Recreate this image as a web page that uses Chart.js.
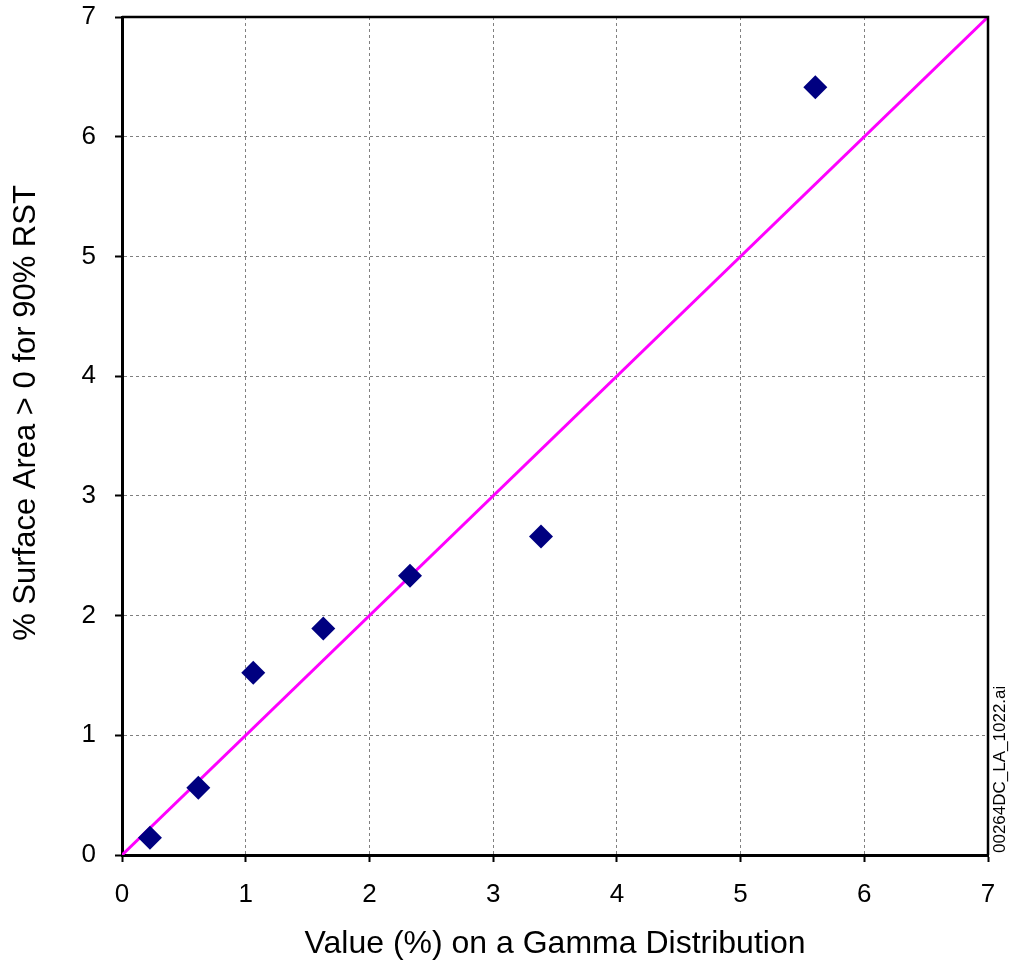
<!DOCTYPE html>
<html>
<head>
<meta charset="utf-8">
<script src="https://cdn.jsdelivr.net/npm/chart.js@4"></script>
<style>
    body { margin: 0; background: #fff; }
    canvas { display: block; }
</style>
</head>
<body>
<canvas id="gammaChart" width="1011" height="971"></canvas>
<script>
// gia tri doc tu hinh
var gammaValues = [0.226, 0.617, 1.061, 1.627, 2.328, 3.387, 5.604];
var surfaceArea = [0.144, 0.561, 1.522, 1.891, 2.333, 2.661, 6.413];
var lineX = [0, 7];
var lineY = [0, 7];
var axisMin = 0;
var axisMax = 7;
var xTitle = 'Value (%) on a Gamma Distribution';
var yTitle = '% Surface Area > 0 for 90% RST';
var fileTag = '00264DC_LA_1022.ai';

var _font = 'Arial, "Liberation Sans", sans-serif';

function toPoints(xs, ys) {
    return xs.map((x, i) => ({ x: x, y: ys[i] }));
}

// khung tren/phai, tieu de truc y va ten file
var framePlugin = {
    id: 'framePlugin',
    afterDraw: function (chart) {
        var ctx = chart.ctx;
        var a = chart.chartArea;
        ctx.save();
        ctx.strokeStyle = '#000';
        ctx.lineWidth = 2.5;
        ctx.beginPath();
        ctx.moveTo(a.left, a.top);
        ctx.lineTo(a.right, a.top);
        ctx.lineTo(a.right, a.bottom);
        ctx.stroke();

        ctx.fillStyle = '#000';
        ctx.font = '31px ' + _font;
        ctx.textAlign = 'center';
        ctx.textBaseline = 'middle';
        ctx.translate(26, 413);
        ctx.rotate(-Math.PI / 2);
        ctx.fillText(yTitle, 0, 0);
        ctx.restore();

        ctx.save();
        ctx.fillStyle = '#000';
        ctx.font = '17px ' + _font;
        ctx.textAlign = 'left';
        ctx.textBaseline = 'middle';
        ctx.translate(1000, 853);
        ctx.rotate(-Math.PI / 2);
        ctx.fillText(fileTag, 0, 0);
        ctx.restore();
    }
};

var ctx = document.getElementById('gammaChart').getContext('2d');
var _myChart = new Chart(ctx, {
    type: 'scatter',
    data: {
        datasets: [
            {
                label: 'Data',
                data: toPoints(gammaValues, surfaceArea),
                pointStyle: 'rectRot',
                pointRadius: 12,
                pointBorderWidth: 0,
                backgroundColor: '#000080',
                borderColor: '#000080',
                order: 1,
            },
            {
                label: '1:1',
                data: toPoints(lineX, lineY),
                showLine: true,
                pointRadius: 0,
                borderColor: '#ff00ff',
                borderWidth: 3,
                order: 2,
            },
        ],
    },
    options: {
        responsive: false,
        animation: false,
        layout: {
            padding: { top: 17, right: 23, left: 0, bottom: 0 },
        },
        plugins: {
            legend: { display: false },
            tooltip: { enabled: false },
        },
        scales: {
            x: {
                type: 'linear',
                min: axisMin,
                max: axisMax,
                afterFit: function (scale) {
                    scale.height = 116;
                    scale.paddingLeft = 0;
                    scale.paddingRight = 0;
                },
                ticks: {
                    stepSize: 1,
                    color: '#000',
                    padding: 17,
                    font: { family: _font, size: 26 },
                },
                grid: {
                    color: '#808080',
                    lineWidth: 1,
                    tickLength: 7,
                    tickColor: '#000',
                    tickWidth: 2,
                },
                border: { color: '#000', width: 3, dash: [3, 3] },
                title: {
                    display: true,
                    text: xTitle,
                    color: '#000',
                    font: { family: _font, size: 32 },
                    padding: { top: 0, bottom: 8 },
                },
            },
            y: {
                type: 'linear',
                min: axisMin,
                max: axisMax,
                afterFit: function (scale) {
                    scale.width = 122;
                    scale.paddingTop = 0;
                    scale.paddingBottom = 0;
                },
                ticks: {
                    stepSize: 1,
                    color: '#000',
                    padding: 19,
                    font: { family: _font, size: 26 },
                },
                grid: {
                    color: '#808080',
                    lineWidth: 1,
                    tickLength: 7,
                    tickColor: '#000',
                    tickWidth: 2,
                },
                border: { color: '#000', width: 3, dash: [3, 3] },
            },
        },
    },
    plugins: [framePlugin],
});
</script>
</body>
</html>
